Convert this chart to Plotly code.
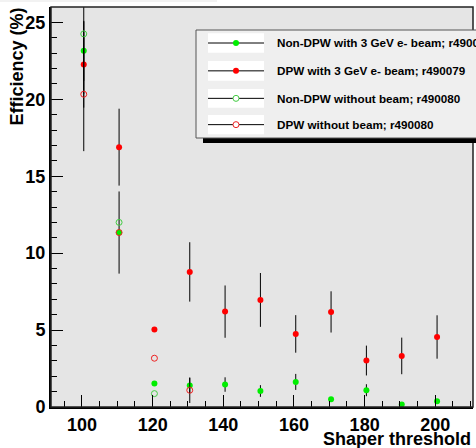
import plotly.graph_objects as go

# ---- data ----
shaper_threshold = [100.5, 110.5, 120.5, 130.5, 140.5, 150.5, 160.5, 170.5, 180.5, 190.5, 200.5]

nondpw_beam = [23.15, 11.34, 1.52, 1.39, 1.46, 1.04, 1.63, 0.50, 1.09, 0.17, 0.37]
nondpw_beam_err = [1.95, 2.67, 0.0, 0.50, 0.47, 0.38, 0.52, 0.0, 0.39, 0.0, 0.0]

dpw_beam = [22.26, 16.89, 5.03, 8.78, 6.20, 6.96, 4.75, 6.18, 3.02, 3.32, 4.55]
dpw_beam_err = [2.80, 2.50, 0.0, 1.93, 1.70, 1.75, 1.22, 1.34, 0.97, 1.19, 1.41]

nobeam_x_nondpw = [100.5, 110.5, 120.5]
nondpw_nobeam = [24.25, 12.00, 0.87]
nondpw_nobeam_err = [3.90, 0.0, 0.0]

nobeam_x_dpw = [100.5, 110.5, 120.5, 130.5]
dpw_nobeam = [20.33, 11.34, 3.17, 1.09]
dpw_nobeam_err = [3.70, 0.0, 0.0, 0.83]

legend_labels = [
    "Non-DPW with 3 GeV e- beam; r490079",
    "DPW with 3 GeV e- beam; r490079",
    "Non-DPW without beam; r490080",
    "DPW without beam; r490080",
]

GREEN = "#00ee00"
RED = "#ff0000"
GREEN_OPEN = "#44cc44"
RED_OPEN = "#ee2222"

W, H = 476, 448
# plot frame in page pixels: x 51..473, y 7..407
L, R, T, B = 51, W - 473, 7, H - 407
PW, PH = W - L - R, H - T - B


def px(x):
    """page pixel x -> paper coordinate"""
    return (x - L) / PW


def py(y):
    """page pixel y -> paper coordinate"""
    return (H - B - y) / PH


FONT = "Liberation Sans, Arial, Helvetica, sans-serif"

fig = go.Figure()


def err(vals):
    return dict(type="data", array=vals, visible=True, color="black", thickness=1, width=0)


fig.add_trace(go.Scatter(x=shaper_threshold, y=nondpw_beam, mode="markers",
                         marker=dict(symbol="circle", size=6, color=GREEN),
                         error_y=err(nondpw_beam_err), name=legend_labels[0]))
fig.add_trace(go.Scatter(x=shaper_threshold, y=dpw_beam, mode="markers",
                         marker=dict(symbol="circle", size=6, color=RED),
                         error_y=err(dpw_beam_err), name=legend_labels[1]))
fig.add_trace(go.Scatter(x=nobeam_x_nondpw, y=nondpw_nobeam, mode="markers",
                         marker=dict(symbol="circle-open", size=6, color=GREEN_OPEN,
                                     line=dict(width=1, color=GREEN_OPEN)),
                         error_y=err(nondpw_nobeam_err), name=legend_labels[2]))
fig.add_trace(go.Scatter(x=nobeam_x_dpw, y=dpw_nobeam, mode="markers",
                         marker=dict(symbol="circle-open", size=6, color=RED_OPEN,
                                     line=dict(width=1, color=RED_OPEN)),
                         error_y=err(dpw_nobeam_err), name=legend_labels[3]))

shapes = []
annotations = []

# frame (top/right)
shapes.append(dict(type="rect", xref="paper", yref="paper", x0=0, x1=1, y0=0, y1=1,
                   line=dict(color="#222222", width=1.5), fillcolor="rgba(0,0,0,0)", layer="above"))
# faint title strip at the very top
shapes.append(dict(type="rect", xref="paper", yref="paper", x0=px(0), x1=px(217), y0=py(2), y1=py(0),
                   line=dict(width=0), fillcolor="#f2f2f2"))

# legend box shadow and box
shapes.append(dict(type="rect", xref="paper", yref="paper", x0=px(203), x1=px(600), y0=py(143), y1=py(137),
                   line=dict(width=0), fillcolor="black", layer="above"))
shapes.append(dict(type="rect", xref="paper", yref="paper", x0=px(196), x1=px(600), y0=py(138), y1=py(30),
                   line=dict(width=1, color="#555555"), fillcolor="#efefef", layer="above"))

rows = [(33.3, 52.7), (61, 80.7), (89, 107.7), (115, 134.3)]
sym = [("fill", GREEN), ("fill", RED), ("open", GREEN_OPEN), ("open", RED_OPEN)]
for (r0, r1), (kind, col), lab in zip(rows, sym, legend_labels):
    cy = (r0 + r1) / 2
    shapes.append(dict(type="rect", xref="paper", yref="paper", x0=px(208), x1=px(264), y0=py(r1), y1=py(r0),
                       line=dict(width=0), fillcolor="white", layer="above"))
    shapes.append(dict(type="line", xref="paper", yref="paper", x0=px(208), x1=px(264), y0=py(cy), y1=py(cy),
                       line=dict(width=1, color="black"), layer="above"))
    shapes.append(dict(type="circle", xref="paper", yref="paper", xsizemode="pixel", ysizemode="pixel",
                       xanchor=px(236), yanchor=py(cy), x0=-3, x1=3, y0=-3, y1=3,
                       fillcolor=col if kind == "fill" else "white",
                       line=dict(width=0 if kind == "fill" else 1, color=col), layer="above"))
    annotations.append(dict(xref="paper", yref="paper", x=px(275), y=py(cy), xanchor="left", yanchor="middle",
                            text=lab, showarrow=False,
                            font=dict(family=FONT, size=11.7, color="black", weight="bold")))

# axis titles
annotations.append(dict(xref="paper", yref="paper", x=1.0, y=py(439), xanchor="right", yanchor="middle",
                        text="Shaper threshold", showarrow=False,
                        font=dict(family=FONT, size=18, color="black", weight="bold")))
annotations.append(dict(xref="paper", yref="paper", x=px(16.5), y=py(6), xanchor="center", yanchor="top",
                        text="Efficiency (%)", textangle=-90, showarrow=False,
                        font=dict(family=FONT, size=18, color="black", weight="bold")))

tickfont = dict(family=FONT, size=18, color="black", weight="bold")

fig.update_layout(
    width=W, height=H,
    margin=dict(l=L, r=R, t=T, b=B, pad=0, autoexpand=False),
    paper_bgcolor="white",
    plot_bgcolor="#e5e5e5",
    showlegend=False,
    shapes=shapes,
    annotations=annotations,
    xaxis=dict(range=[91.23, 210.67], tick0=0, dtick=20, ticks="inside", ticklen=12, tickwidth=1,
               tickcolor="black", showgrid=False, zeroline=False, showline=True, linecolor="black",
               linewidth=2, tickfont=tickfont, automargin=False,
               minor=dict(dtick=5, ticks="inside", ticklen=6, tickwidth=1, tickcolor="black", showgrid=False)),
    yaxis=dict(range=[0, 26], tick0=0, dtick=5, ticks="inside", ticklen=12, tickwidth=1,
               tickcolor="black", showgrid=False, zeroline=False, showline=True, linecolor="black",
               linewidth=2, tickfont=tickfont, automargin=False,
               minor=dict(dtick=1, ticks="inside", ticklen=6, tickwidth=1, tickcolor="black", showgrid=False)),
)

# remove the page's default 8px body margin so the figure sits at the window's top-left corner
fig.write_html("out.html",
               config={"displayModeBar": False},
               post_script="document.body.style.margin='0px';document.body.style.overflow='hidden';")
